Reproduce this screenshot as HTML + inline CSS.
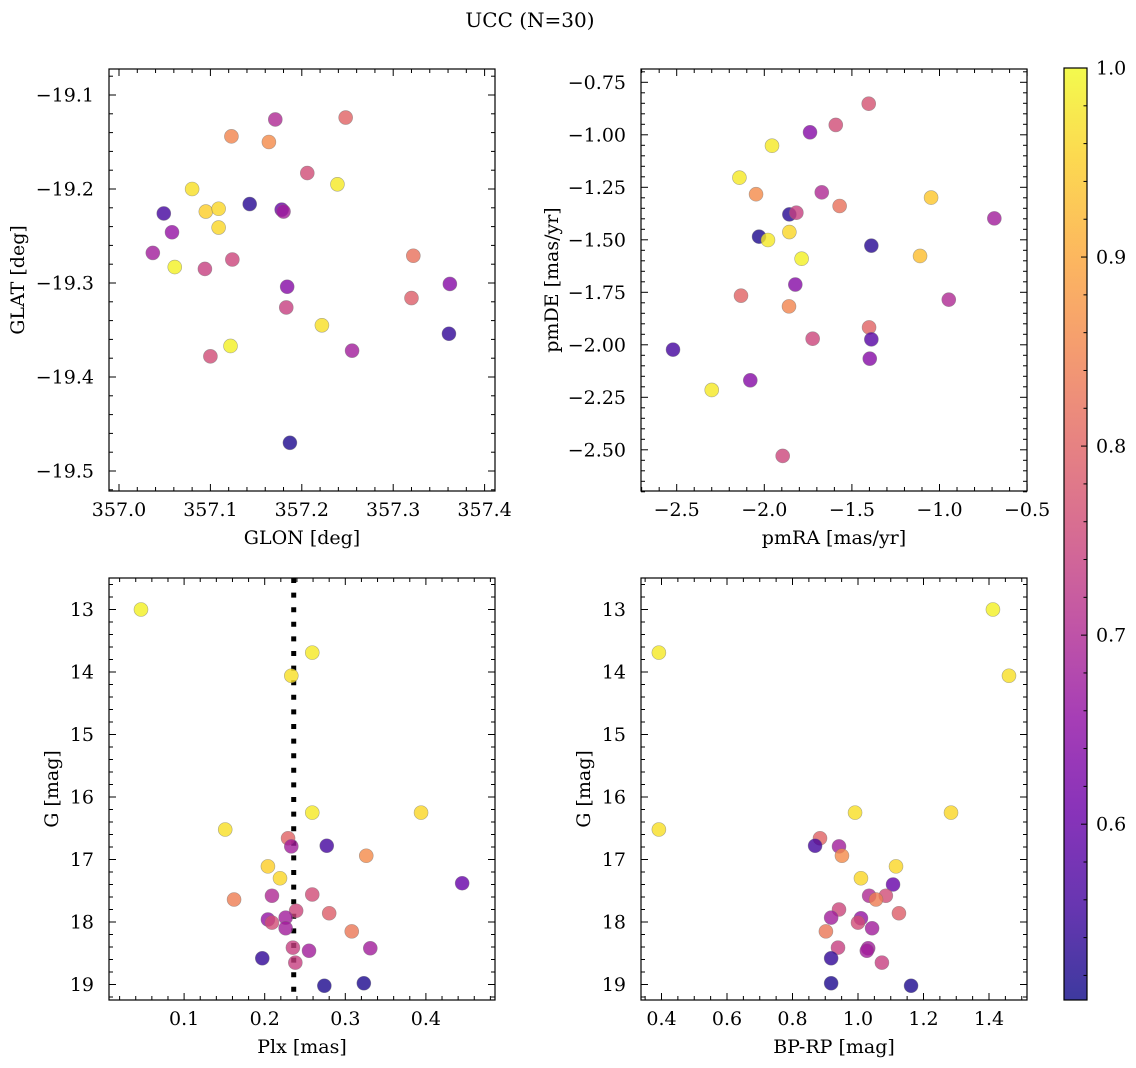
<!DOCTYPE html>
<html><head><meta charset="utf-8"><style>
html,body{margin:0;padding:0;background:#fff;}
svg{display:block;font-family:"DejaVu Serif","Liberation Serif",serif;}
</style></head><body>
<svg id="fig" width="1136" height="1068" viewBox="0 0 1136 1068" xmlns="http://www.w3.org/2000/svg">
<defs>
<linearGradient id="plasmaGrad" x1="0" y1="1" x2="0" y2="0"></linearGradient>
</defs>
<text x="530" y="27" font-size="20" text-anchor="middle">UCC (N=30)</text>
</svg>
<script>
// ---------- data ----------
const p1Glon = [357.171,357.248,357.123,357.164,357.206,357.239,357.080,357.143,357.049,357.095,357.109,357.178,357.180,357.109,357.058,357.037,357.061,357.094,357.124,357.322,357.184,357.362,357.320,357.183,357.222,357.122,357.100,357.255,357.361,357.187];
const p1Glat = [-19.126,-19.124,-19.144,-19.150,-19.183,-19.195,-19.200,-19.216,-19.226,-19.224,-19.221,-19.222,-19.224,-19.241,-19.246,-19.268,-19.283,-19.285,-19.275,-19.271,-19.304,-19.301,-19.316,-19.326,-19.345,-19.367,-19.378,-19.372,-19.354,-19.470];
const p1Prob = [0.70,0.80,0.85,0.86,0.76,0.98,0.97,0.53,0.56,0.95,0.96,0.60,0.68,0.96,0.66,0.68,0.99,0.74,0.75,0.82,0.64,0.64,0.79,0.74,0.97,0.99,0.76,0.68,0.54,0.52];

const p2PmRA = [-1.404,-1.739,-1.592,-1.956,-2.142,-2.047,-1.672,-1.570,-1.048,-1.857,-1.817,-2.030,-1.979,-1.857,-1.787,-1.389,-1.111,-0.687,-1.823,-2.133,-1.859,-0.947,-1.402,-1.724,-1.389,-1.398,-2.521,-2.080,-2.300,-1.895];
const p2PmDE = [-0.852,-0.988,-0.953,-1.052,-1.204,-1.283,-1.274,-1.339,-1.299,-1.379,-1.371,-1.485,-1.501,-1.463,-1.590,-1.528,-1.577,-1.398,-1.713,-1.766,-1.817,-1.785,-1.917,-1.971,-1.974,-2.066,-2.023,-2.169,-2.215,-2.529];
const p2Prob = [0.77,0.64,0.76,0.98,0.98,0.86,0.70,0.82,0.94,0.53,0.74,0.52,0.98,0.96,0.99,0.53,0.93,0.68,0.64,0.80,0.85,0.70,0.80,0.75,0.58,0.64,0.56,0.64,0.98,0.75];

const p3Plx = [0.0465,0.259,0.233,0.151,0.259,0.394,0.229,0.233,0.277,0.326,0.204,0.219,0.445,0.162,0.209,0.259,0.239,0.280,0.204,0.209,0.226,0.226,0.308,0.235,0.255,0.331,0.197,0.238,0.274,0.323];
const p3G = [13.00,13.69,14.06,16.52,16.25,16.25,16.66,16.79,16.78,16.94,17.11,17.30,17.38,17.64,17.58,17.56,17.82,17.86,17.96,18.01,17.93,18.10,18.15,18.41,18.46,18.42,18.58,18.65,19.02,18.98];
const p3Prob = [0.99,0.98,0.97,0.97,0.98,0.96,0.80,0.68,0.56,0.86,0.95,0.96,0.60,0.84,0.70,0.76,0.75,0.79,0.66,0.76,0.68,0.68,0.83,0.74,0.68,0.68,0.54,0.74,0.52,0.52];
const plxMedian = [0.236];

const p4Color = [1.412,0.392,1.461,0.392,0.991,1.284,0.884,0.869,0.942,0.951,1.116,1.009,1.107,1.034,1.085,1.055,0.942,0.918,1.009,1.000,1.125,1.043,0.902,0.939,1.031,1.027,0.918,1.073,0.918,1.162];
const p4G = [13.00,13.69,14.06,16.52,16.25,16.25,16.66,16.78,16.79,16.94,17.11,17.30,17.40,17.58,17.58,17.64,17.80,17.93,17.94,18.01,17.86,18.10,18.15,18.41,18.42,18.46,18.58,18.65,18.98,19.02];
const p4Prob = [0.99,0.98,0.97,0.97,0.97,0.96,0.80,0.56,0.68,0.86,0.96,0.96,0.60,0.70,0.76,0.84,0.75,0.68,0.66,0.76,0.79,0.68,0.83,0.74,0.68,0.68,0.54,0.74,0.52,0.52];

const cbarTicks = [0.6,0.7,0.8,0.9,1.0];
const cbarRange = [0.507,1.0];

// ---------- helpers ----------
const NS = "http://www.w3.org/2000/svg";
const svg = document.getElementById('fig');
const FS = 19;
function mk(tag, attrs, parent){ const e=document.createElementNS(NS,tag); for(const k in attrs) e.setAttribute(k,attrs[k]); (parent||svg).appendChild(e); return e; }
const plasma = ["#0d0887","#41049d","#6a00a8","#8f0da4","#b12a90","#cc4778","#e16462","#f2844b","#fca636","#fcce25","#f0f921"];
function hex2rgb(h){return [parseInt(h.substr(1,2),16),parseInt(h.substr(3,2),16),parseInt(h.substr(5,2),16)];}
function cmap(p){
  let t=(p-cbarRange[0])/(cbarRange[1]-cbarRange[0]); t=Math.max(0,Math.min(1,t));
  const f=t*10, i=Math.min(9,Math.floor(f)), r=f-i;
  const a=hex2rgb(plasma[i]), b=hex2rgb(plasma[i+1]);
  return "rgb("+a.map((v,k)=>Math.round(v+(b[k]-v)*r)).join(",")+")";
}
function fmt(v,d){ const s=Math.abs(v).toFixed(d); return (v<-1e-9?"\u2212":"")+s; }

function panel(cfg){
  const g=mk('g',{});
  
  
  const L=cfg.box[0],T=cfg.box[1],R=cfg.box[2],B=cfg.box[3];
  const sx=v=>cfg.xPx+(v-cfg.xRef)*cfg.xScale;
  const sy=v=>cfg.yPx-(v-cfg.yRef)*cfg.yScale;
  const cid='clip-'+cfg.name;
  const cp=mk('clipPath',{id:cid},g); mk('rect',{x:L,y:T,width:R-L,height:B-T},cp);
  const pts=mk('g',{'clip-path':'url(#'+cid+')'},g);
  
  
  if(cfg.vline){
    const ln=mk('line',{x1:sx(cfg.vline[0]),x2:sx(cfg.vline[0]),y1:T,y2:B,stroke:'#000','stroke-width':5,'stroke-dasharray':'5 9.6'},pts);
    
    
  }
  for(let i=0;i<cfg.xs.length;i++){
    const c=mk('circle',{cx:sx(cfg.xs[i]),cy:sy(cfg.ys[i]),r:7,fill:cmap(cfg.ps[i]),'fill-opacity':0.8,stroke:'#777','stroke-opacity':0.6,'stroke-width':0.6},pts);
    
    
  }
  const fr=mk('rect',{x:L,y:T,width:R-L,height:B-T,fill:'none',stroke:'#000','stroke-width':1.2},g);
  
  
  const xa=cfg.xRef+(L-1-cfg.xPx)/cfg.xScale, xb=cfg.xRef+(R+1-cfg.xPx)/cfg.xScale;
  const ya=cfg.yRef-(B+1-cfg.yPx)/cfg.yScale, yb=cfg.yRef-(T-1-cfg.yPx)/cfg.yScale;
  const xv0=Math.min(xa,xb), xv1=Math.max(xa,xb), yv0=Math.min(ya,yb), yv1=Math.max(ya,yb);
  for(let k=Math.ceil(xv0/cfg.xMinor-1e-6);k*cfg.xMinor<=xv1+1e-9;k++){
    const v=k*cfg.xMinor, x=sx(v);
    const major=Math.abs(v/cfg.xMajor-Math.round(v/cfg.xMajor))<1e-6;
    const len=major?7:4;
    mk('line',{x1:x,x2:x,y1:B,y2:B-len,stroke:'#000','stroke-width':1},g);
    mk('line',{x1:x,x2:x,y1:T,y2:T+len,stroke:'#000','stroke-width':1},g);
    if(major){
      const t=mk('text',{x:x,y:B+25,'font-size':FS,'text-anchor':'middle'},g);
      t.textContent=fmt(v,cfg.xDec);
      
      
    }
  }
  for(let k=Math.ceil(yv0/cfg.yMinor-1e-6);k*cfg.yMinor<=yv1+1e-9;k++){
    const v=k*cfg.yMinor, y=sy(v);
    const major=Math.abs(v/cfg.yMajor-Math.round(v/cfg.yMajor))<1e-6;
    const len=major?7:4;
    mk('line',{x1:L,x2:L+len,y1:y,y2:y,stroke:'#000','stroke-width':1},g);
    mk('line',{x1:R,x2:R-len,y1:y,y2:y,stroke:'#000','stroke-width':1},g);
    if(major){
      const t=mk('text',{x:L-15,y:y+6.5,'font-size':FS,'text-anchor':'end'},g);
      t.textContent=fmt(v,cfg.yDec);
      
      
    }
  }
  const xl=mk('text',{x:(L+R)/2,y:B+53,'font-size':FS,'text-anchor':'middle'},g);
  xl.textContent=cfg.xLabel;
  
  
  const yl=mk('text',{x:0,y:0,'font-size':FS,'text-anchor':'middle',transform:'translate('+cfg.yLabelX+','+((T+B)/2)+') rotate(-90)'},g);
  yl.textContent=cfg.yLabel;
  
  
}

panel({name:'glon-glat-panel',box:[109,69,495,491],xs:p1Glon,ys:p1Glat,ps:p1Prob,
  xRef:357.0,xPx:119,xScale:914,yRef:-19.1,yPx:95,yScale:940,
  xMajor:0.1,xMinor:0.02,yMajor:0.1,yMinor:0.02,xDec:1,yDec:1,xLabel:'GLON [deg]',yLabel:'GLAT [deg]',yLabelX:24});
panel({name:'pm-panel',box:[641,69,1027,491],xs:p2PmRA,ys:p2PmDE,ps:p2Prob,
  xRef:-2.5,xPx:676.7,xScale:175.2,yRef:-0.75,yPx:82.3,yScale:210,
  xMajor:0.5,xMinor:0.1,yMajor:0.25,yMinor:0.05,xDec:1,yDec:2,xLabel:'pmRA [mas/yr]',yLabel:'pmDE [mas/yr]',yLabelX:558});
panel({name:'plx-g-panel',box:[109,578,495,1000],xs:p3Plx,ys:p3G,ps:p3Prob,vline:plxMedian,
  xRef:0,xPx:103.5,xScale:806,yRef:13,yPx:609.5,yScale:-62.5,
  xMajor:0.1,xMinor:0.02,yMajor:1,yMinor:0.2,xDec:1,yDec:0,xLabel:'Plx [mas]',yLabel:'G [mag]',yLabelX:58});
panel({name:'cmd-panel',box:[641,578,1027,1000],xs:p4Color,ys:p4G,ps:p4Prob,
  xRef:1.0,xPx:858,xScale:327.5,yRef:13,yPx:609.5,yScale:-62.5,
  xMajor:0.2,xMinor:0.05,yMajor:1,yMinor:0.2,xDec:1,yDec:0,xLabel:'BP-RP [mag]',yLabel:'G [mag]',yLabelX:590});

// ---------- colorbar ----------
const grad=document.getElementById('plasmaGrad');
for(let i=0;i<=20;i++){
  const p=cbarRange[0]+(cbarRange[1]-cbarRange[0])*i/20;
  mk('stop',{offset:(i/20),'stop-color':cmap(p),'stop-opacity':0.8},grad);
}
const cbT=68,cbB=1000,cbL=1064,cbR=1087;
const cy=v=>cbB-(v-cbarRange[0])/(cbarRange[1]-cbarRange[0])*(cbB-cbT);
const cbg=mk('g',{});


mk('rect',{x:cbL,y:cbT,width:cbR-cbL,height:cbB-cbT,fill:'url(#plasmaGrad)'},cbg);
mk('rect',{x:cbL,y:cbT,width:cbR-cbL,height:cbB-cbT,fill:'none',stroke:'#000','stroke-width':1.2},cbg);
for(let k=26;k<=50;k++){
  const v=k*0.02; if(v<cbarRange[0]-1e-9||v>cbarRange[1]+1e-9) continue;
  const major=Math.abs(v*10-Math.round(v*10))<1e-6;
  mk('line',{x1:cbR,x2:cbR-(major?6:3.5),y1:cy(v),y2:cy(v),stroke:'#000','stroke-width':1},cbg);
}
for(const v of cbarTicks){
  const t=mk('text',{x:1096,y:cy(v)+6.5,'font-size':FS},cbg);
  t.textContent=v.toFixed(1);
  
  
}
</script>
</body></html>
